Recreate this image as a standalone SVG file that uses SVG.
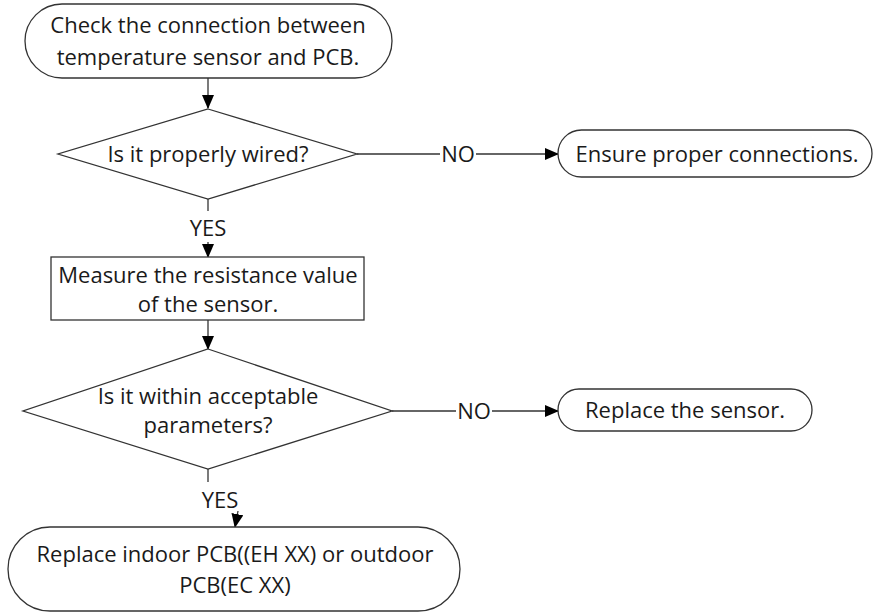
<svg xmlns="http://www.w3.org/2000/svg" width="873" height="613" viewBox="0 0 873 613">
<style>
.s{fill:#fff;stroke:#333;stroke-width:1.3}
.t{font-family:"Open Sans","Noto Sans",sans-serif;font-size:22px;fill:#1a1a1a;text-anchor:middle}
.c{stroke:#333;stroke-width:1.3;fill:none}
</style>
<defs>
<marker id="a" markerWidth="14" markerHeight="12" refX="13" refY="6" orient="auto" markerUnits="userSpaceOnUse">
<path d="M0,0 L14,6 L0,12 Z" fill="#000"/>
</marker>
</defs>
<rect width="873" height="613" fill="#fff"/>
<g id="connectors">
<line class="c" x1="208" y1="78" x2="208" y2="108" marker-end="url(#a)"/>
<line class="c" x1="357" y1="154" x2="440" y2="154"/>
<line class="c" x1="476" y1="154" x2="558" y2="154" marker-end="url(#a)"/>
<line class="c" x1="208" y1="199" x2="208" y2="211"/>
<line class="c" x1="208" y1="242" x2="208" y2="257" marker-end="url(#a)"/>
<line class="c" x1="208" y1="320" x2="208" y2="349" marker-end="url(#a)"/>
<line class="c" x1="392" y1="411" x2="456" y2="411"/>
<line class="c" x1="492" y1="411" x2="558" y2="411" marker-end="url(#a)"/>
<line class="c" x1="208" y1="469" x2="208" y2="482"/>
<line class="c" x1="238" y1="511" x2="235" y2="527" marker-end="url(#a)"/>
<text class="t" x="458" y="162">NO</text>
<text class="t" x="208" y="236">YES</text>
<text class="t" x="474" y="419">NO</text>
<text class="t" x="220" y="508">YES</text>
</g>
<g id="start">
<rect class="s" x="25" y="4" width="367" height="74" rx="37" ry="37"/>
<text class="t" x="208" y="33">Check the connection between</text>
<text class="t" x="208" y="65">temperature sensor and PCB.</text>
</g>
<g id="wired">
<polygon class="s" points="208,109 357,154 208,199 58,154"/>
<text class="t" x="208" y="162">Is it properly wired?</text>
</g>
<g id="ensure">
<rect class="s" x="558" y="130" width="314" height="47" rx="23.5" ry="23.5"/>
<text class="t" x="717" y="162">Ensure proper connections.</text>
</g>
<g id="measure">
<rect class="s" x="51" y="257" width="313" height="63"/>
<text class="t" x="208" y="283">Measure the resistance value</text>
<text class="t" x="208" y="312">of the sensor.</text>
</g>
<g id="within">
<polygon class="s" points="208,349 392,411 208,469 23,411"/>
<text class="t" x="208" y="404">Is it within acceptable</text>
<text class="t" x="208" y="433">parameters?</text>
</g>
<g id="replace-sensor">
<rect class="s" x="558" y="389" width="254" height="42" rx="21" ry="21"/>
<text class="t" x="685" y="418">Replace the sensor.</text>
</g>
<g id="replace-pcb">
<rect class="s" x="8" y="527" width="452" height="84" rx="42" ry="42"/>
<text class="t" x="235" y="562">Replace indoor PCB((EH XX) or outdoor</text>
<text class="t" x="235" y="593">PCB(EC XX)</text>
</g>
</svg>
